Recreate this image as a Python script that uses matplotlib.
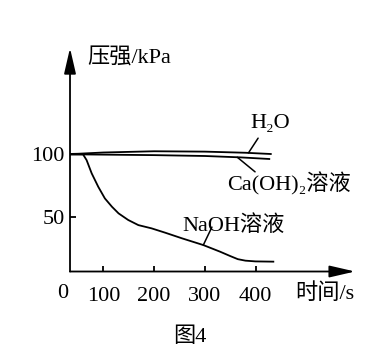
import matplotlib
matplotlib.use('Agg')
import matplotlib.pyplot as plt
import numpy as np

plt.rcParams['font.family'] = ['Liberation Serif', 'DejaVu Serif', 'Noto Sans CJK SC']

# 数据
h2o_t = [0, 50, 100, 200, 300, 380, 430]
h2o_p = [100, 100.5, 101.5, 102.5, 102.2, 101.3, 100.3]

caoh_t = [0, 50, 100, 200, 300, 370, 427]
caoh_p = [100, 100, 99.8, 99.4, 98.7, 97.6, 96.3]

naoh_t = [0, 60, 67, 77, 90, 103, 117, 130, 149, 169, 195, 222, 255, 297, 330, 350, 365, 380, 400, 435]
naoh_p = [100, 100, 95.4, 84.8, 74, 64.7, 58, 52.7, 47.4, 43.3, 40.7, 37.2, 32.7, 27.3, 22, 18.5, 16, 14.8, 14.2, 14]

x_ticks = [100, 200, 300, 400]
y_ticks = [50, 100]

fs = 16
lw = 1.3

fig = plt.figure(figsize=(3.77, 3.48), dpi=100)
ax = fig.add_axes([0.1857, 0.2198, 0.756, 0.642])

ax.plot(h2o_t, h2o_p, color='k', lw=lw)
ax.plot(caoh_t, caoh_p, color='k', lw=lw)
ax.plot(naoh_t, naoh_p, color='k', lw=lw)

ax.set_xlim(34.3, 596)
ax.set_ylim(6.1, 185.2)

for s in ax.spines.values():
    s.set_visible(False)

# 坐标轴箭头
arrow = dict(arrowstyle='-|>,head_length=1.3,head_width=0.3', color='k', lw=lw,
             mutation_scale=12, shrinkA=0, shrinkB=0)
ax.annotate('', xy=(1, 0), xytext=(0, 0), xycoords='axes fraction', arrowprops=arrow)
ax.annotate('', xy=(0, 1), xytext=(0, 0), xycoords='axes fraction', arrowprops=arrow)

ax.set_xticks(x_ticks)
ax.set_xticklabels([str(v) for v in x_ticks])
ax.set_yticks(y_ticks)
ax.set_yticklabels([str(v) for v in y_ticks])
ax.tick_params(axis='x', direction='in', length=4, width=lw, pad=11, labelsize=fs)
ax.tick_params(axis='y', direction='in', length=4, width=lw, pad=4, labelsize=fs)

ax.text(-0.025, -0.1, '0', transform=ax.transAxes, ha='center', va='center', fontsize=fs)
ax.text(0.79, -0.1, '时间/s', transform=ax.transAxes, ha='left', va='center', fontsize=fs)
ax.text(0.06, 0.955, '压强/kPa', transform=ax.transAxes, ha='left', va='center', fontsize=fs)

# 曲线标注
def leader(t_arr, p_arr, t0, end):
    p0 = np.interp(t0, t_arr, p_arr)
    ax.annotate('', xy=(t0, p0), xytext=end,
                arrowprops=dict(arrowstyle='-', color='k', lw=1.1, shrinkA=0, shrinkB=0))

leader(h2o_t, h2o_p, 386, (405, 113))
ax.text(389, 125, 'H₂O', ha='left', va='center', fontsize=fs)

leader(caoh_t, caoh_p, 364, (399, 86))
ax.text(344, 76, 'Ca(OH)₂溶液', ha='left', va='center', fontsize=fs)

leader(naoh_t, naoh_p, 297, (314, 41.7))
ax.text(255, 43.3, 'NaOH溶液', ha='left', va='center', fontsize=fs)

fig.text(0.504, 0.032, '图4', ha='center', va='center', fontsize=fs)

fig.savefig('out.png', dpi=100)
